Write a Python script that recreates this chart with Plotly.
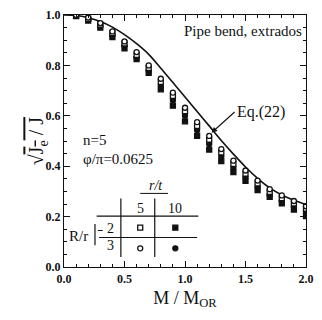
import plotly.graph_objects as go

# ---- data ----
m_ratio = [0.1, 0.2, 0.3, 0.4, 0.5, 0.6, 0.7, 0.8, 0.9, 1.0,
           1.1, 1.2, 1.3, 1.4, 1.5, 1.6, 1.7, 1.8, 1.9, 2.0]
open_circle = [1.0, 0.99, 0.968, 0.935, 0.895, 0.853, 0.80, 0.747, 0.692, 0.632,
               0.575, 0.52, 0.468, 0.422, 0.383, 0.343, 0.309, 0.284, 0.262, 0.241]
open_square = [0.998, 0.985, 0.962, 0.928, 0.887, 0.842, 0.79, 0.735, 0.679, 0.618,
               0.560, 0.505, 0.455, 0.409, 0.37, 0.332, 0.298, 0.273, 0.252, 0.232]
filled_circle = [0.997, 0.982, 0.957, 0.921, 0.878, 0.83, 0.778, 0.72, 0.662, 0.60,
                 0.543, 0.488, 0.438, 0.394, 0.355, 0.318, 0.286, 0.262, 0.240, 0.220]
filled_square = [0.996, 0.978, 0.95, 0.912, 0.868, 0.825, 0.77, 0.705, 0.64, 0.578,
                 0.52, 0.466, 0.42, 0.377, 0.342, 0.305, 0.278, 0.253, 0.228, 0.202]

eq_x = [0.0, 0.1, 0.2, 0.3, 0.4, 0.5, 0.6, 0.7, 0.8, 0.9, 1.0,
        1.1, 1.2, 1.3, 1.4, 1.5, 1.6, 1.7, 1.8, 1.9, 2.0]
eq_y = [1.0, 0.998, 0.989, 0.974, 0.952, 0.922, 0.886, 0.844, 0.789, 0.732, 0.675,
        0.617, 0.560, 0.502, 0.448, 0.397, 0.352, 0.314, 0.286, 0.265, 0.248]

x_ticks = [0.0, 0.5, 1.0, 1.5, 2.0]
y_ticks = [0.0, 0.2, 0.4, 0.6, 0.8, 1.0]

FONT = "Liberation Serif, Times New Roman, serif"
BLACK = "#111"

fig = go.Figure()

fig.add_trace(go.Scatter(x=eq_x, y=eq_y, mode="lines", line=dict(color=BLACK, width=1.6, shape="spline"),
                         showlegend=False, hoverinfo="skip"))

def mk(sym, filled):
    return dict(symbol=sym, size=5, color=BLACK if filled else "white",
                line=dict(color=BLACK, width=1.3))

fig.add_trace(go.Scatter(x=m_ratio, y=filled_square, mode="markers", marker=mk("square", True), showlegend=False))
fig.add_trace(go.Scatter(x=m_ratio, y=filled_circle, mode="markers", marker=mk("circle", True), showlegend=False))
fig.add_trace(go.Scatter(x=m_ratio, y=open_square, mode="markers", marker=mk("square", False), showlegend=False))
fig.add_trace(go.Scatter(x=m_ratio, y=open_circle, mode="markers", marker=mk("circle", False), showlegend=False))

# ---- key table ----
key_col = [0.63, 0.92]
key_row = [0.156, 0.074]
fig.add_trace(go.Scatter(x=[key_col[0]], y=[key_row[0]], mode="markers", marker=mk("square", False), showlegend=False))
fig.add_trace(go.Scatter(x=[key_col[1]], y=[key_row[0]], mode="markers", marker=mk("square", True), showlegend=False))
fig.add_trace(go.Scatter(x=[key_col[0]], y=[key_row[1]], mode="markers", marker=mk("circle", False), showlegend=False))
fig.add_trace(go.Scatter(x=[key_col[1]], y=[key_row[1]], mode="markers", marker=mk("circle", True), showlegend=False))

line_style = dict(color=BLACK, width=1.2)
shapes = [
    dict(type="line", x0=0.47, x1=0.47, y0=0.272, y1=0.04, line=line_style),
    dict(type="line", x0=0.75, x1=0.75, y0=0.272, y1=0.04, line=line_style),
    dict(type="line", x0=0.27, x1=1.11, y0=0.202, y1=0.202, line=line_style),
    dict(type="line", x0=0.29, x1=1.10, y0=0.117, y1=0.117, line=line_style),
    dict(type="line", x0=0.63, x1=0.86, y0=0.292, y1=0.292, line=dict(color=BLACK, width=1)),
    dict(type="line", x0=0.256, x1=0.256, y0=0.171, y1=0.086, line=line_style),
    dict(type="line", x0=0.28, x1=0.32, y0=0.145, y1=0.145, line=dict(color=BLACK, width=1)),
]

def ann(x, y, text, size=13, **kw):
    d = dict(x=x, y=y, xref="x", yref="y", text=text, showarrow=False,
             font=dict(family=FONT, size=size, color=BLACK))
    d.update(kw)
    return d

annotations = [
    ann(0.758, 0.322, "<i>r/t</i>", 14),
    ann(0.63, 0.233, "5", 14),
    ann(0.92, 0.233, "10", 14),
    ann(0.385, 0.152, "2", 14),
    ann(0.385, 0.086, "3", 14),
    ann(0.12, 0.125, "R/r", 15),
    ann(1.985, 0.935, "Pipe bend, extrados", 15, xanchor="right"),
    ann(0.14, 0.505, "n=5", 15, xanchor="left"),
    ann(0.14, 0.428, "φ/π=0.0625", 15, xanchor="left"),
    dict(x=1.22, y=0.533, xref="x", yref="y", ax=1.41, ay=0.615, axref="x", ayref="y",
         text="Eq.(22)", showarrow=True, arrowhead=2, arrowsize=1, arrowwidth=1.1,
         arrowcolor=BLACK, xanchor="left", font=dict(family=FONT, size=16, color=BLACK)),
    dict(x=-0.17, y=0.5, xref="paper", yref="paper",
         text="√<span style='text-decoration:overline'>J<sub>e</sub> / J</span>",
         textangle=-90, showarrow=False, font=dict(family=FONT, size=20, color=BLACK)),
]

axis_common = dict(showgrid=False, zeroline=False, showline=True, linecolor=BLACK, linewidth=1.3,
                   mirror="ticks", ticks="inside", ticklen=6, tickwidth=1.2, tickcolor=BLACK,
                   tickfont=dict(family=FONT, size=12, color=BLACK))

fig.update_layout(
    width=322, height=320,
    margin=dict(l=64, r=8, t=10, b=53),
    paper_bgcolor="white", plot_bgcolor="white",
    xaxis=dict(range=[0, 2.0], tickvals=x_ticks, ticktext=[f"<b>{v:.1f}</b>" for v in x_ticks],
               minor=dict(dtick=0.1, ticks="inside", ticklen=3, tickcolor=BLACK),
               title=dict(text="M / M<sub>OR</sub>", font=dict(family=FONT, size=18, color=BLACK), standoff=6),
               **axis_common),
    yaxis=dict(range=[0, 1.0], tickvals=y_ticks, ticktext=[f"<b>{v:.1f}</b>" for v in y_ticks],
               minor=dict(dtick=0.05, ticks="inside", ticklen=3, tickcolor=BLACK),
               **axis_common),
    shapes=shapes,
    annotations=annotations,
)

fig.write_html("out.html", config={"displayModeBar": False},
               post_script="document.body.style.margin='0';")
